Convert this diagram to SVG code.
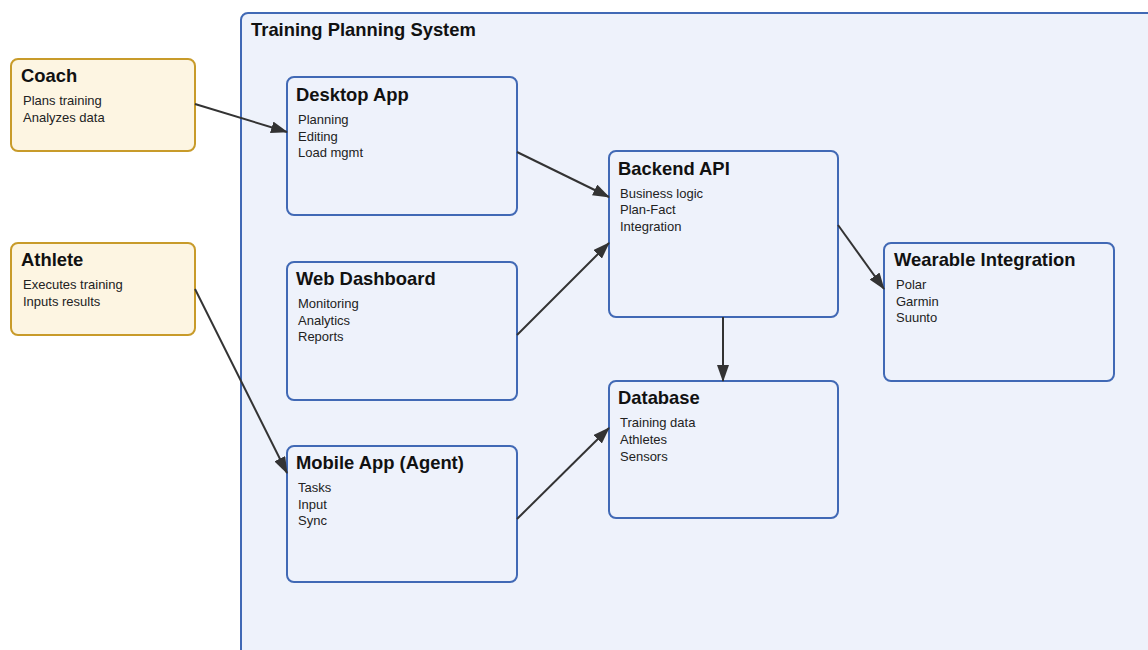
<svg xmlns="http://www.w3.org/2000/svg" width="1148" height="650" viewBox="0 0 1148 650">
<style>
.box{fill:#EEF2FB;stroke:#4169B5;stroke-width:2}
.actor{fill:#FDF5E2;stroke:#C89B2A;stroke-width:2}
.title{font-family:"Liberation Sans",Arial,sans-serif;font-weight:bold;font-size:18.4px;fill:#111}
.body{font-family:"Liberation Sans",Arial,sans-serif;font-size:13px;fill:#222}
.conn{stroke:#333;stroke-width:2;fill:none;marker-end:url(#arr)}
</style>
<defs>
<marker id="arr" viewBox="0 0 17 12" refX="16" refY="6" markerWidth="17" markerHeight="12" markerUnits="userSpaceOnUse" orient="auto">
<path d="M0,0 L17,6 L0,12 z" fill="#333"/>
</marker>
</defs>
<rect width="1148" height="650" fill="#fff"/>
<g id="system">
<rect x="241" y="13" width="920" height="650" rx="7" class="box"/>
<text x="251" y="36" class="title">Training Planning System</text>
</g>
<g id="coach">
<rect x="11" y="59" width="184" height="92" rx="7" class="actor"/>
<text x="21" y="82" class="title">Coach</text>
<text class="body"><tspan x="23" y="105">Plans training</tspan><tspan x="23" y="122">Analyzes data</tspan></text>
</g>
<g id="athlete">
<rect x="11" y="243" width="184" height="92" rx="7" class="actor"/>
<text x="21" y="266" class="title">Athlete</text>
<text class="body"><tspan x="23" y="289">Executes training</tspan><tspan x="23" y="306">Inputs results</tspan></text>
</g>
<g id="desktop">
<rect x="287" y="77" width="230" height="138" rx="7" class="box"/>
<text x="296" y="101" class="title">Desktop App</text>
<text class="body"><tspan x="298" y="124">Planning</tspan><tspan x="298" y="141">Editing</tspan><tspan x="298" y="157">Load mgmt</tspan></text>
</g>
<g id="web">
<rect x="287" y="262" width="230" height="138" rx="7" class="box"/>
<text x="296" y="285" class="title">Web Dashboard</text>
<text class="body"><tspan x="298" y="308">Monitoring</tspan><tspan x="298" y="325">Analytics</tspan><tspan x="298" y="341">Reports</tspan></text>
</g>
<g id="mobile">
<rect x="287" y="446" width="230" height="136" rx="7" class="box"/>
<text x="296" y="469" class="title">Mobile App (Agent)</text>
<text class="body"><tspan x="298" y="492">Tasks</tspan><tspan x="298" y="509">Input</tspan><tspan x="298" y="525">Sync</tspan></text>
</g>
<g id="backend">
<rect x="609" y="151" width="229" height="166" rx="7" class="box"/>
<text x="618" y="175" class="title">Backend API</text>
<text class="body"><tspan x="620" y="198">Business logic</tspan><tspan x="620" y="214">Plan-Fact</tspan><tspan x="620" y="231">Integration</tspan></text>
</g>
<g id="database">
<rect x="609" y="381" width="229" height="137" rx="7" class="box"/>
<text x="618" y="404" class="title">Database</text>
<text class="body"><tspan x="620" y="427">Training data</tspan><tspan x="620" y="444">Athletes</tspan><tspan x="620" y="461">Sensors</tspan></text>
</g>
<g id="wearable">
<rect x="884" y="243" width="230" height="138" rx="7" class="box"/>
<text x="894" y="266" class="title">Wearable Integration</text>
<text class="body"><tspan x="896" y="289">Polar</tspan><tspan x="896" y="306">Garmin</tspan><tspan x="896" y="322">Suunto</tspan></text>
</g>
<g id="connectors">
<line x1="195" y1="104" x2="287" y2="132" class="conn"/>
<line x1="517" y1="152" x2="609" y2="197" class="conn"/>
<line x1="517" y1="335" x2="609" y2="243" class="conn"/>
<line x1="195" y1="289" x2="287" y2="473" class="conn"/>
<line x1="517" y1="519" x2="609" y2="428" class="conn"/>
<line x1="723" y1="317" x2="723" y2="381" class="conn"/>
<line x1="838" y1="225" x2="884" y2="289" class="conn"/>
</g>
</svg>
